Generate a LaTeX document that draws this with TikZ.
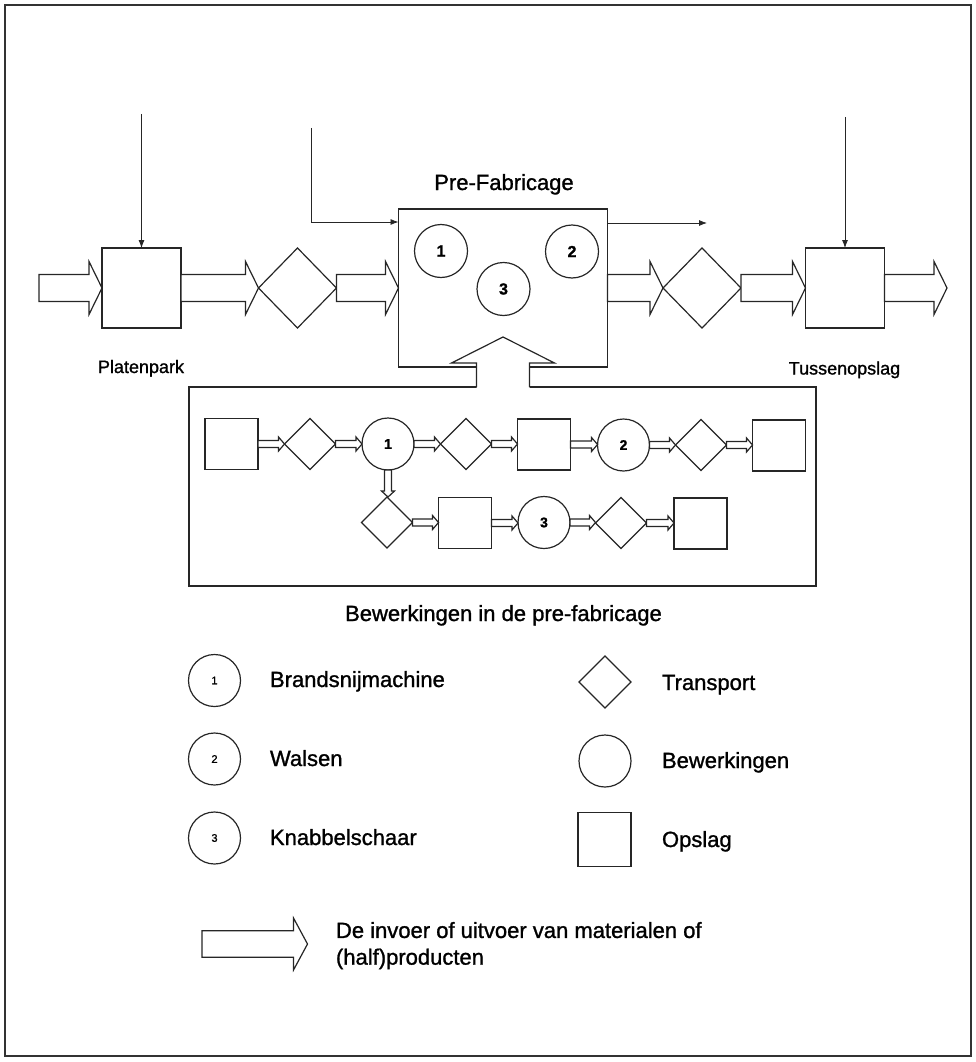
\documentclass[tikz,border=0pt]{standalone}
\usepackage{fontspec}
\setmainfont{Liberation Sans}[RawFeature={embolden=1.2}]
\usetikzlibrary{shapes.geometric,arrows.meta,calc}
\newcommand\hblk[5]{%
  \draw[blk] let \p1=(#1), \p2=(#2) in
    (\x1,{\y1+#3pt}) -- ({\x2-#5pt},{\y1+#3pt}) -- ({\x2-#5pt},{\y1+#4pt}) -- (\x2,\y1)
    -- ({\x2-#5pt},{\y1-#4pt}) -- ({\x2-#5pt},{\y1-#3pt}) -- (\x1,{\y1-#3pt}) -- cycle;}
\newcommand\vblk[5]{%
  \draw[blk] let \p1=(#1), \p2=(#2) in
    ({\x1-#3pt},\y1) -- ({\x1-#3pt},{\y2+#5pt}) -- ({\x1-#4pt},{\y2+#5pt}) -- (\x1,\y2)
    -- ({\x1+#4pt},{\y2+#5pt}) -- ({\x1+#3pt},{\y2+#5pt}) -- ({\x1+#3pt},\y1) -- cycle;}
\begin{document}
\begin{tikzpicture}[x=1pt,y=-1pt,
  every node/.style={inner sep=0pt, outer sep=0pt},
  shp/.style={draw=black!85, line width=1.2pt},
  bigsq/.style={shp, rectangle, minimum width=79pt, minimum height=80pt},
  bigdia/.style={shp, diamond, minimum width=78pt, minimum height=80pt},
  smsq/.style={shp, rectangle, minimum width=53pt, minimum height=51pt},
  smdia/.style={shp, diamond, minimum width=51pt, minimum height=51pt},
  smcirc/.style={shp, circle, minimum size=52pt, font=\fontsize{14}{16}\selectfont\bfseries},
  pfcirc/.style={shp, circle, minimum size=53pt, font=\fontsize{16}{18}\selectfont\bfseries},
  lgcirc/.style={shp, circle, minimum size=52pt, font=\fontsize{11}{13}\selectfont},
  lbl/.style={font=\fontsize{22}{26.7}\selectfont},
  slbl/.style={font=\fontsize{18}{21}\selectfont},
  blk/.style={draw=black!85, line width=1.2pt, fill=white, line join=miter},
  thinarrow/.style={draw=black!85, line width=0.8pt, -{Latex[length=8pt,width=6pt]}}]
\useasboundingbox (0,0) rectangle (975,1062);
\draw[black!80, line width=2pt] (5,5) rectangle (971,1056);

% main row
\node[bigsq] (pp) at (141.5,288) {};
\node[bigdia] (d1) at (297.5,288) {};
\node[shp, rectangle, minimum width=209pt, minimum height=158pt] (pf) at (503,288) {};
\node[bigdia] (d2) at (702,288) {};
\node[bigsq] (to) at (845,288) {};
\coordinate (in) at (39,288);
\coordinate (out) at (947,288);

\node[pfcirc] (p1) at (441,251) {1};
\node[pfcirc] (p2) at (572,251.5) {2};
\node[pfcirc] (p3) at (503.5,289) {3};

\hblk{in}{pp.west}{13.5}{26.5}{13}
\hblk{pp.east}{d1.west}{13.5}{26.5}{13}
\hblk{d1.east}{pf.west}{13.5}{26.5}{13}
\hblk{pf.east}{d2.west}{13.5}{26.5}{13}
\hblk{d2.east}{to.west}{13.5}{26.5}{13}
\hblk{to.east}{out}{13.5}{26.5}{13}

% thin arrows
\coordinate (t1) at (141.5,114);
\draw[thinarrow] (t1) -- (pp.north);
\coordinate (t2) at (311,128);
\path (pf.north west) ++(0,13) coordinate (t2e);
\draw[thinarrow] (t2) |- (t2e);
\path (pf.north east) ++(0,14) coordinate (t3s);
\coordinate (t3) at (707,223);
\draw[thinarrow] (t3s) -- (t3);
\coordinate (t4) at (845,117);
\draw[thinarrow] (t4) -- (to.north);

% labels
\node[slbl, anchor=base] (pptxt) at (141,373) {Platenpark};
\node[slbl, anchor=base] (totxt) at (844.5,374.5) {Tussenopslag};
\node[lbl, anchor=base] (pftxt) at (504,190) {Pre-Fabricage};

% inner box
\node[shp, rectangle, minimum width=627pt, minimum height=199pt] (inner) at (502.5,486.5) {};

% big up arrow
\path[fill=white] let \p1=(pf.south), \p2=(inner.north) in
  ({\x1-26.5pt},{\y2-1pt}) -- ({\x1-26.5pt},{\y1+4pt}) -- ({\x1-51.5pt},{\y1+4pt}) -- (\x1,{\y1+30pt})
  -- ({\x1+51.5pt},{\y1+4pt}) -- ({\x1+26.5pt},{\y1+4pt}) -- ({\x1+26.5pt},{\y2-1pt}) -- cycle;
\draw[draw=black!85, line width=1.2pt, line join=miter] let \p1=(pf.south), \p2=(inner.north) in
  ({\x1-26.5pt},\y2) -- ({\x1-26.5pt},{\y1+4pt}) -- ({\x1-51.5pt},{\y1+4pt}) -- (\x1,{\y1+30pt})
  -- ({\x1+51.5pt},{\y1+4pt}) -- ({\x1+26.5pt},{\y1+4pt}) -- ({\x1+26.5pt},\y2);

% inner row 1
\node[smsq] (A) at (231.5,444) {};
\node[smdia] (B) at (310,444) {};
\node[smcirc] (c1) at (388,444) {1};
\node[smdia] (C) at (466,444) {};
\node[smsq] (D) at (544,444.5) {};
\node[smcirc] (c2) at (623.5,445) {2};
\node[smdia] (E) at (701,445) {};
\node[smsq] (F) at (779,445.5) {};
% inner row 2
\node[smdia] (G) at (387,522.5) {};
\node[smsq] (H) at (465,523) {};
\node[smcirc] (c3) at (544,522.5) {3};
\node[smdia] (I) at (621,523) {};
\node[smsq] (J) at (700.5,523.5) {};

\hblk{A.east}{B.west}{3.5}{7}{6}
\hblk{B.east}{c1.west}{3.5}{7}{6}
\hblk{c1.east}{C.west}{3.5}{7}{6}
\hblk{C.east}{D.west}{3.5}{7}{6}
\hblk{D.east}{c2.west}{3.5}{7}{6}
\hblk{c2.east}{E.west}{3.5}{7}{6}
\hblk{E.east}{F.west}{3.5}{7}{6}
\hblk{G.east}{H.west}{3.5}{7}{6}
\hblk{H.east}{c3.west}{3.5}{7}{6}
\hblk{c3.east}{I.west}{3.5}{7}{6}
\hblk{I.east}{J.west}{3.5}{7}{6}
\vblk{c1.south}{G.north}{3.5}{6.5}{6}

\node[lbl, anchor=base] (bwtxt) at (503.5,621) {Bewerkingen in de pre-fabricage};

% legend
\node[lgcirc] (l1) at (214.5,680.5) {1};
\node[lgcirc] (l2) at (214.5,759) {2};
\node[lgcirc] (l3) at (214.5,838) {3};
\node[lbl, anchor=base west] (l1t) at (270,687) {Brandsnijmachine};
\node[lbl, anchor=base west] (l2t) at (270,766) {Walsen};
\node[lbl, anchor=base west] (l3t) at (270,845) {Knabbelschaar};

\node[shp, diamond, minimum width=52pt, minimum height=52pt] (ld) at (605,682) {};
\node[shp, circle, minimum size=52pt] (lc) at (605,761) {};
\node[shp, rectangle, minimum width=53pt, minimum height=54pt] (ls) at (604.5,839.5) {};
\node[lbl, anchor=base west] (ldt) at (662,690) {Transport};
\node[lbl, anchor=base west] (lct) at (662,768) {Bewerkingen};
\node[lbl, anchor=base west] (lst) at (662,847) {Opslag};

\coordinate (la1) at (202,944);
\coordinate (la2) at (307.5,944);
\hblk{la1}{la2}{13.3}{26}{14}
\node[lbl, anchor=north west, align=left] (lat) at (336,922) {De invoer of uitvoer van materialen of\\(half)producten};
\end{tikzpicture}
\end{document}
